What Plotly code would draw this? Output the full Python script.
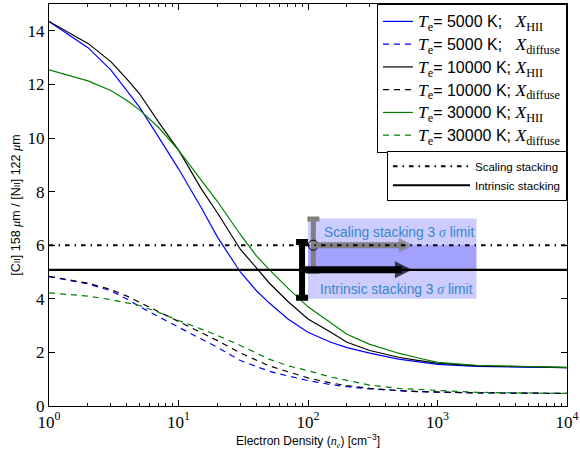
import math
import plotly.graph_objects as go

# ---------------- data ----------------
density = [1, 2, 3, 4, 5, 7, 10, 15, 20, 30, 40, 50, 70, 100, 150, 200, 300, 500, 700, 1000, 2000, 5000, 10000]

t5000_hii = [14.35, 13.37, 12.54, 11.75, 11.15, 10.04, 8.85, 7.4, 6.3, 5.0, 4.3, 3.85, 3.25, 2.75, 2.38, 2.18, 1.97, 1.75, 1.64, 1.55, 1.48, 1.44, 1.43]
t5000_diff = [4.83, 4.56, 4.3, 3.99, 3.71, 3.35, 2.94, 2.5, 2.19, 1.7, 1.47, 1.3, 1.12, 0.95, 0.8, 0.72, 0.64, 0.57, 0.54, 0.52, 0.49, 0.48, 0.47]
t10000_hii = [14.35, 13.53, 12.85, 12.2, 11.65, 10.6, 9.55, 8.1, 7.2, 5.85, 5.15, 4.6, 3.9, 3.25, 2.75, 2.38, 2.07, 1.82, 1.7, 1.6, 1.5, 1.45, 1.43]
t10000_diff = [4.84, 4.58, 4.35, 4.1, 3.87, 3.52, 3.13, 2.72, 2.44, 1.98, 1.7, 1.5, 1.28, 1.05, 0.86, 0.76, 0.66, 0.57, 0.54, 0.52, 0.49, 0.48, 0.47]
t30000_hii = [12.54, 12.13, 11.77, 11.4, 11.05, 10.4, 9.55, 8.4, 7.63, 6.4, 5.6, 5.1, 4.4, 3.7, 3.1, 2.68, 2.3, 1.97, 1.8, 1.63, 1.52, 1.46, 1.44]
t30000_diff = [4.22, 4.10, 3.97, 3.86, 3.75, 3.5, 3.19, 2.87, 2.63, 2.26, 1.98, 1.75, 1.5, 1.32, 1.08, 0.95, 0.78, 0.66, 0.61, 0.58, 0.51, 0.48, 0.47]

temperatures = ["5000", "10000", "30000"]
colors = ["#0000ff", "#000000", "#008000"]

scaling_limit = 6.0
scaling_err = 0.98
scaling_x = 110
scaling_arrow_end = 655

intrinsic_limit = 5.08
intrinsic_err = 1.04
intrinsic_x = 90
intrinsic_arrow_end = 635

box_x = [100, 2000]
box_y = [4.0, 7.0]

x_tickvals = [1, 10, 100, 1000, 10000]
x_ticktext = ["10<sup>0</sup>", "10<sup>1</sup>", "10<sup>2</sup>", "10<sup>3</sup>", "10<sup>4</sup>"]
y_tickvals = [0, 2, 4, 6, 8, 10, 12, 14]

SERIF = "Liberation Serif"
SANS = "Liberation Sans"
LABEL_BLUE = "#3a86c8"

fig = go.Figure()

def rect(x0, x1, y0, y1):
    return [x0, x1, x1, x0, x0], [y0, y0, y1, y1, y0]

# shaded boxes
bx, by = rect(box_x[0], box_x[1], box_y[0], box_y[1])
fig.add_trace(go.Scatter(x=bx, y=by, mode="lines", fill="toself",
                         fillcolor="rgba(0,0,255,0.2)", line=dict(width=0),
                         showlegend=False, hoverinfo="skip"))
bx, by = rect(box_x[0], box_x[1], intrinsic_limit, scaling_limit)
fig.add_trace(go.Scatter(x=bx, y=by, mode="lines", fill="toself",
                         fillcolor="rgba(0,0,255,0.2)", line=dict(width=0),
                         showlegend=False, hoverinfo="skip"))

def label(temp, sub, pad):
    return (f"<span style=\"font-family:{SERIF};font-size:17.5px\"><i>T</i><sub>e</sub></span>"
            f"<span style=\"font-size:16px\">= {temp} K;{pad}</span>"
            f"<span style=\"font-family:{SERIF};font-size:17.5px\"><i>X</i><sub>{sub}</sub></span>")

series = [
    (t5000_hii, t5000_diff),
    (t10000_hii, t10000_diff),
    (t30000_hii, t30000_diff),
]
pads = ["\u00a0\u00a0\u00a0", "\u00a0", "\u00a0"]
for (hii, diff), temp, col, pad in zip(series, temperatures, colors, pads):
    fig.add_trace(go.Scatter(x=density, y=hii, mode="lines",
                             line=dict(color=col, width=1.2),
                             name=label(temp, "HII", pad), legend="legend"))
    fig.add_trace(go.Scatter(x=density, y=diff, mode="lines",
                             line=dict(color=col, width=1.2, dash="6px,5px"),
                             name=label(temp, "diffuse", pad), legend="legend"))

# intrinsic stacking line
fig.add_trace(go.Scatter(x=[density[0], density[-1]], y=[intrinsic_limit, intrinsic_limit],
                         mode="lines", line=dict(color="black", width=2.2),
                         name="Intrinsic stacking", legend="legend2", legendrank=2))

# error bars
fig.add_trace(go.Scatter(x=[intrinsic_x], y=[intrinsic_limit], mode="markers",
                         marker=dict(size=6, color="black"),
                         error_y=dict(type="data", array=[intrinsic_err], color="black",
                                      thickness=6, width=6),
                         showlegend=False, hoverinfo="skip"))
fig.add_trace(go.Scatter(x=[scaling_x], y=[scaling_limit], mode="markers",
                         marker=dict(size=10, symbol="circle-open", color="black",
                                     line=dict(width=1, color="black")),
                         error_y=dict(type="data", array=[scaling_err], color="#808080",
                                      thickness=5, width=6),
                         showlegend=False, hoverinfo="skip"))

# arrows
fig.add_trace(go.Scatter(x=[intrinsic_x, intrinsic_arrow_end], y=[intrinsic_limit, intrinsic_limit],
                         mode="lines+markers",
                         line=dict(color="black", width=7, backoff=10),
                         marker=dict(symbol="arrow-right", size=[0, 17], color="black",
                                     line=dict(width=0)),
                         showlegend=False, hoverinfo="skip"))
fig.add_trace(go.Scatter(x=[scaling_x, scaling_arrow_end], y=[scaling_limit, scaling_limit],
                         mode="lines+markers",
                         line=dict(color="#808080", width=6, backoff=9),
                         marker=dict(symbol="arrow-right", size=[0, 15], color="#808080",
                                     line=dict(width=0)),
                         showlegend=False, hoverinfo="skip"))

# scaling stacking line
fig.add_trace(go.Scatter(x=[density[0], density[-1]], y=[scaling_limit, scaling_limit],
                         mode="lines", line=dict(color="black", width=2, dash="4.5px,5px,1.5px,5px"),
                         name="Scaling stacking", legend="legend2", legendrank=1))

# labels
fig.add_annotation(x=math.log10(128), y=6.47, xref="x", yref="y", xanchor="left",
                   yanchor="middle", showarrow=False,
                   text=f"Scaling stacking 3 <span style=\"font-family:{SERIF}\"><i>σ</i></span> limit",
                   font=dict(family=SANS, size=13.8, color=LABEL_BLUE))
fig.add_annotation(x=math.log10(120), y=4.35, xref="x", yref="y", xanchor="left",
                   yanchor="middle", showarrow=False,
                   text=f"Intrinsic stacking 3 <span style=\"font-family:{SERIF}\"><i>σ</i></span> limit",
                   font=dict(family=SANS, size=13.8, color=LABEL_BLUE))

minor_vals = [m * 10 ** d for d in range(4) for m in range(2, 10)]

fig.update_xaxes(type="log", range=[0, 4], automargin=False, showline=True, linecolor="black", linewidth=1.2,
                 mirror="ticks", ticks="inside", ticklen=6, tickwidth=1, tickcolor="black",
                 tickmode="array", tickvals=x_tickvals, ticktext=x_ticktext,
                 tickfont=dict(family=SERIF, size=17, color="black"),
                 minor=dict(ticks="inside", ticklen=3, tickwidth=1, tickcolor="black",
                            tickmode="array", tickvals=minor_vals, showgrid=False),
                 showgrid=False, zeroline=False,
                 title=dict(text="Electron Density (<span style=\"font-family:Liberation Serif\"><i>n<sub>e</sub></i></span>) [cm<sup>−3</sup>]",
                            font=dict(family=SANS, size=12, color="black"), standoff=6))
fig.update_yaxes(range=[0, 15], automargin=False, showline=True, linecolor="black", linewidth=1.2,
                 mirror="ticks", ticks="inside", ticklen=6, tickwidth=1, tickcolor="black",
                 tickmode="array", tickvals=y_tickvals,
                 tickfont=dict(family=SERIF, size=17, color="black"),
                 showgrid=False, zeroline=False,
                 title=dict(text="[C<span style=\"font-size:9px\">II</span>] 158 <span style=\"font-family:Liberation Serif\"><i>μ</i></span>m / [N<span style=\"font-size:9px\">II</span>] 122 <span style=\"font-family:Liberation Serif\"><i>μ</i></span>m",
                            font=dict(family=SANS, size=12.5, color="black"), standoff=4))

fig.update_layout(
    width=580, height=454,
    margin=dict(l=49, r=13, t=4, b=48, autoexpand=False),
    paper_bgcolor="white", plot_bgcolor="white",
    showlegend=True,
    legend=dict(x=1, xanchor="right", y=1, yanchor="top", bgcolor="white",
                bordercolor="black", borderwidth=1, itemwidth=30, tracegroupgap=0,
                font=dict(family=SANS, size=15.2, color="black")),
    legend2=dict(x=1, xanchor="right", y=0.635, yanchor="top", bgcolor="white",
                 bordercolor="black", borderwidth=1, itemwidth=77,
                 font=dict(family=SANS, size=11.5, color="black")),
)

fig.write_html("out.html", config={"displayModeBar": False},
               post_script="document.body.style.margin='0';")
